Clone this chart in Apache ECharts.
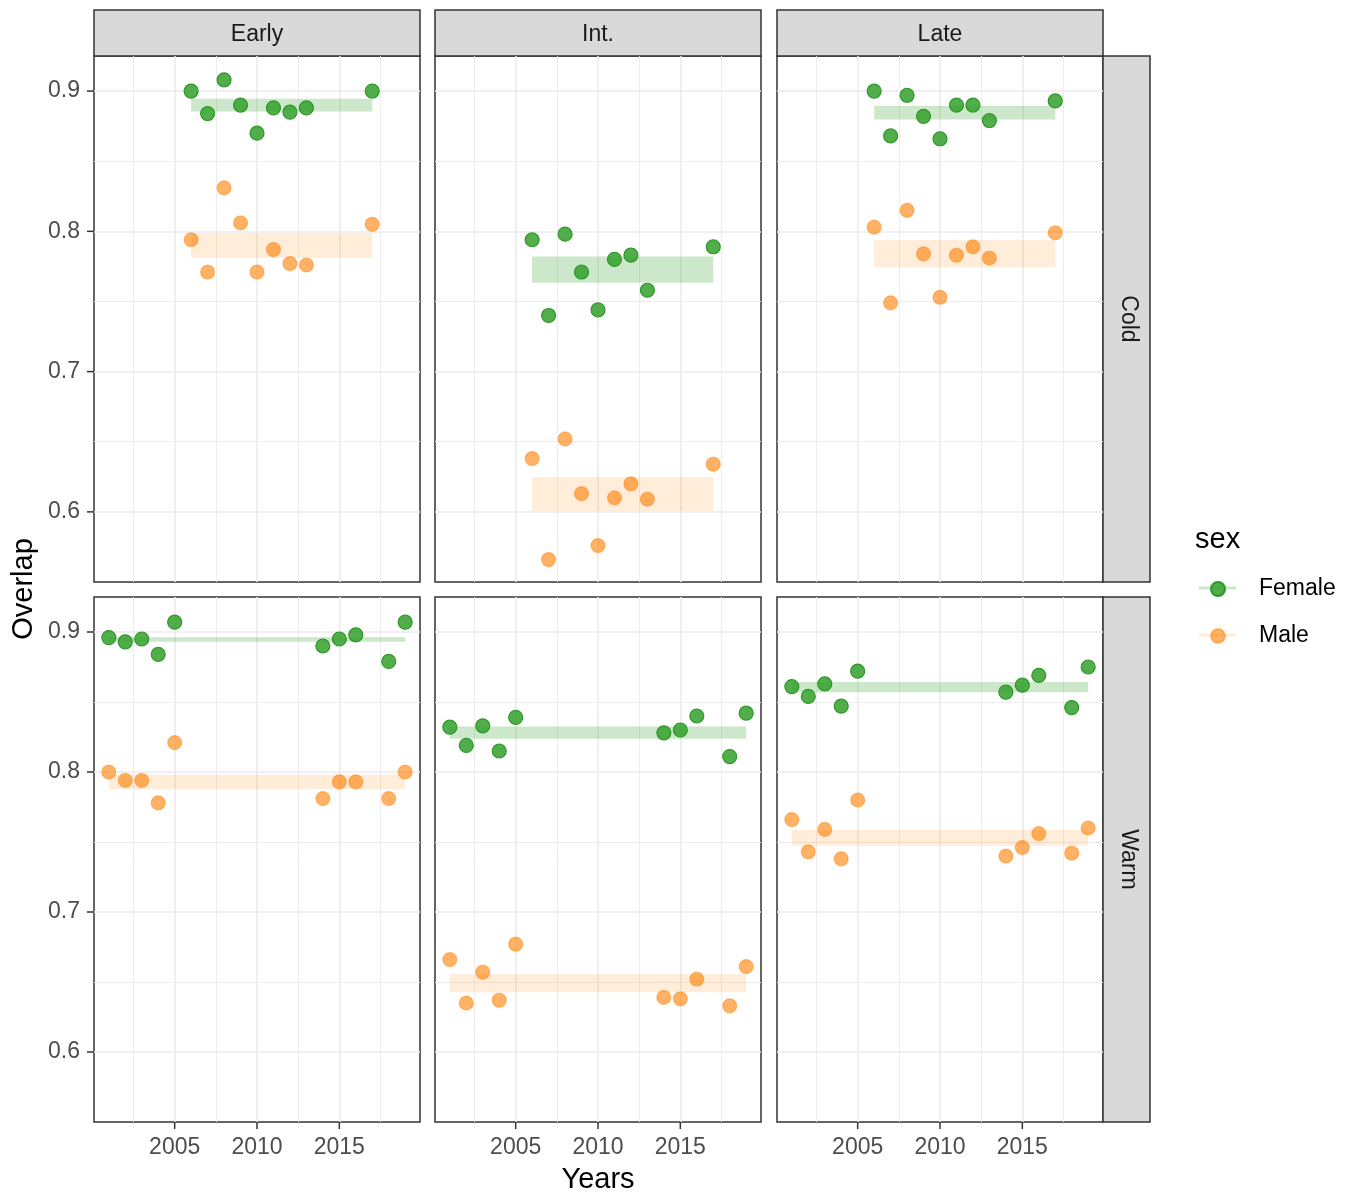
<!DOCTYPE html>
<html>
<head>
<meta charset="utf-8">
<script src="https://cdn.jsdelivr.net/npm/echarts@6/dist/echarts.min.js"></script>
<style>
  html, body { margin: 0; padding: 0; background: #fff; }
  #chart { width: 1352px; height: 1196px; }
</style>
</head>
<body>
<div id="chart"></div>
<script>
// facet: 列 = 时期, 行 = 气候; 每个面板 Female/Male 散点 + 均值带
const periods = ['Early', 'Int.', 'Late']
const climates = ['Cold', 'Warm']
const yearsCold = [2006, 2007, 2008, 2009, 2010, 2011, 2012, 2013, 2017]
const yearsWarm = [2001, 2002, 2003, 2004, 2005, 2014, 2015, 2016, 2018, 2019]

// 面板顺序: Early-Cold, Int.-Cold, Late-Cold, Early-Warm, Int.-Warm, Late-Warm
const femaleEarlyCold = [0.900, 0.884, 0.908, 0.890, 0.870, 0.888, 0.885, 0.888, 0.900]
const femaleIntCold   = [0.794, 0.740, 0.798, 0.771, 0.744, 0.780, 0.783, 0.758, 0.789]
const femaleLateCold  = [0.900, 0.868, 0.897, 0.882, 0.866, 0.890, 0.890, 0.879, 0.893]
const femaleEarlyWarm = [0.896, 0.893, 0.895, 0.884, 0.907, 0.890, 0.895, 0.898, 0.879, 0.907]
const femaleIntWarm   = [0.832, 0.819, 0.833, 0.815, 0.839, 0.828, 0.830, 0.840, 0.811, 0.842]
const femaleLateWarm  = [0.861, 0.854, 0.863, 0.847, 0.872, 0.857, 0.862, 0.869, 0.846, 0.875]

const maleEarlyCold = [0.794, 0.771, 0.831, 0.806, 0.771, 0.787, 0.777, 0.776, 0.805]
const maleIntCold   = [0.638, 0.566, 0.652, 0.613, 0.576, 0.610, 0.620, 0.609, 0.634]
const maleLateCold  = [0.803, 0.749, 0.815, 0.784, 0.753, 0.783, 0.789, 0.781, 0.799]
const maleEarlyWarm = [0.800, 0.794, 0.794, 0.778, 0.821, 0.781, 0.793, 0.793, 0.781, 0.800]
const maleIntWarm   = [0.666, 0.635, 0.657, 0.637, 0.677, 0.639, 0.638, 0.652, 0.633, 0.661]
const maleLateWarm  = [0.766, 0.743, 0.759, 0.738, 0.780, 0.740, 0.746, 0.756, 0.742, 0.760]

// 均值带 [下, 上]
const femaleBand = [[0.8855, 0.8945], [0.7634, 0.7820], [0.8798, 0.8896], [0.8930, 0.8963], [0.8237, 0.8325], [0.8569, 0.8643]]
const maleBand   = [[0.7812, 0.7988], [0.6006, 0.6249], [0.7744, 0.7939], [0.7876, 0.7981], [0.6426, 0.6555], [0.7474, 0.7586]]

const xTicks = [2005, 2010, 2015]
const yTicks = [0.6, 0.7, 0.8, 0.9]

const FONT = '"Liberation Sans", Arial, sans-serif'
const X_MIN = 2000.1, X_MAX = 2019.9
const Y_MIN = 0.55, Y_MAX = 0.925

const femaleVals = [femaleEarlyCold, femaleIntCold, femaleLateCold, femaleEarlyWarm, femaleIntWarm, femaleLateWarm]
const maleVals = [maleEarlyCold, maleIntCold, maleLateCold, maleEarlyWarm, maleIntWarm, maleLateWarm]

const colLeft = [94, 435, 777]
const colW = 326
const rowTop = [56, 597]
const rowH = [526, 525]

// 刻度短线: 用 custom 系列按轴坐标画在面板外侧
function tickSeries(i, dir, vals) {
  return {
    type: 'custom', xAxisIndex: i, yAxisIndex: i, silent: true, clip: false, z: 5,
    data: vals.map(v => dir === 'x' ? [v, Y_MIN] : [X_MIN, v]),
    renderItem: (params, api) => {
      const p = api.coord([api.value(0), api.value(1)])
      const shape = dir === 'x'
        ? { x1: p[0], y1: p[1], x2: p[0], y2: p[1] + 7 }
        : { x1: p[0] - 7, y1: p[1], x2: p[0], y2: p[1] }
      return { type: 'line', shape, style: { stroke: '#333', lineWidth: 1.5 } }
    }
  }
}

const grids = [], xAxes = [], yAxes = [], series = []
for (let r = 0; r < 2; r++) {
  for (let c = 0; c < 3; c++) {
    const i = r * 3 + c
    const years = r === 0 ? yearsCold : yearsWarm
    grids.push({ left: colLeft[c], top: rowTop[r], width: colW, height: rowH[r], show: true,
      borderColor: '#333', borderWidth: 1.5, backgroundColor: '#fff' })
    xAxes.push({
      type: 'value', gridIndex: i, min: X_MIN, max: X_MAX, splitNumber: 4,
      axisLine: { show: false },
      axisTick: { show: false },
      axisLabel: { show: r === 1, customValues: xTicks, color: '#4d4d4d', fontSize: 23, fontFamily: FONT, margin: 14,
        formatter: v => String(v) },
      splitLine: { show: true, showMinLine: false, showMaxLine: false, lineStyle: { color: '#ebebeb', width: 1.6 } },
      minorTick: { show: false, splitNumber: 2 },
      minorSplitLine: { show: true, lineStyle: { color: '#ebebeb', width: 0.9 } }
    })
    yAxes.push({
      type: 'value', gridIndex: i, min: Y_MIN, max: Y_MAX,
      axisLine: { show: false },
      axisTick: { show: false },
      axisLabel: { show: c === 0, customValues: yTicks, color: '#4d4d4d', fontSize: 23, fontFamily: FONT, margin: 14 },
      splitLine: { show: true, showMinLine: false, showMaxLine: false, lineStyle: { color: '#ebebeb', width: 1.6 } },
      minorTick: { show: false, splitNumber: 2 },
      minorSplitLine: { show: true, lineStyle: { color: '#ebebeb', width: 0.9 } }
    })
    const mk = (name, vals, band, fill, border, bandFill) => ({
      name, type: 'scatter', xAxisIndex: i, yAxisIndex: i, symbolSize: 14,
      itemStyle: { color: fill, borderColor: border, borderWidth: 1.2, opacity: 1 },
      data: years.map((y, k) => [y, vals[k]]),
      markArea: {
        silent: true,
        itemStyle: { color: bandFill },
        data: [[{ coord: [years[0], band[0]] }, { coord: [years[years.length - 1], band[1]] }]]
      }
    })
    series.push(mk('Female', femaleVals[i], femaleBand[i], 'rgba(51,160,44,0.85)', 'rgba(40,150,36,0.95)', 'rgba(51,160,44,0.25)'))
    series.push(mk('Male', maleVals[i], maleBand[i], 'rgba(255,127,0,0.6)', 'rgba(255,127,0,0.45)', 'rgba(255,127,0,0.15)'))
    if (r === 1) series.push(tickSeries(i, 'x', xTicks))
    if (c === 0) series.push(tickSeries(i, 'y', yTicks))
  }
}

const graphic = []
periods.forEach((p, c) => {
  graphic.push({ type: 'rect', shape: { x: colLeft[c], y: 10, width: colW, height: 46 },
    style: { fill: '#d9d9d9', stroke: '#333', lineWidth: 1.5 } })
  graphic.push({ type: 'text', x: colLeft[c] + colW / 2, y: 35,
    style: { text: p, fill: '#1a1a1a', font: '23px ' + FONT, textAlign: 'center', textVerticalAlign: 'middle' } })
})
climates.forEach((cl, r) => {
  graphic.push({ type: 'rect', shape: { x: 1103, y: rowTop[r], width: 47, height: rowH[r] },
    style: { fill: '#d9d9d9', stroke: '#333', lineWidth: 1.5 } })
  graphic.push({ type: 'text', x: 1128, y: rowTop[r] + rowH[r] / 2, rotation: -Math.PI / 2,
    style: { text: cl, fill: '#1a1a1a', font: '23px ' + FONT, textAlign: 'center', textVerticalAlign: 'middle' } })
})
graphic.push({ type: 'text', x: 24, y: 589, rotation: Math.PI / 2,
  style: { text: 'Overlap', fill: '#000', font: '29px ' + FONT, textAlign: 'center', textVerticalAlign: 'middle' } })
graphic.push({ type: 'text', x: 598, y: 1180,
  style: { text: 'Years', fill: '#000', font: '29px ' + FONT, textAlign: 'center', textVerticalAlign: 'middle' } })
graphic.push({ type: 'text', x: 1195, y: 540,
  style: { text: 'sex', fill: '#000', font: '29px ' + FONT, textAlign: 'left', textVerticalAlign: 'middle' } })
// 图例里的浅色横线
graphic.push({ type: 'line', z: 0, shape: { x1: 1199, y1: 588, x2: 1236, y2: 588 }, style: { stroke: 'rgba(51,160,44,0.25)', lineWidth: 3 } })
graphic.push({ type: 'line', z: 0, shape: { x1: 1199, y1: 635, x2: 1236, y2: 635 }, style: { stroke: 'rgba(255,127,0,0.15)', lineWidth: 3 } })

const chart = echarts.init(document.getElementById('chart'), null, { renderer: 'canvas' })
chart.setOption({
  animation: false,
  backgroundColor: '#fff',
  textStyle: { fontFamily: FONT },
  grid: grids,
  xAxis: xAxes,
  yAxis: yAxes,
  legend: {
    data: ['Female', 'Male'], orient: 'vertical', left: 1210, top: 577, padding: 0,
    icon: 'circle', itemWidth: 72, itemHeight: 14, itemGap: 23,
    textStyle: { fontSize: 23, color: '#000', fontFamily: FONT, lineHeight: 24 }
  },
  graphic,
  series
})
</script>
</body>
</html>
